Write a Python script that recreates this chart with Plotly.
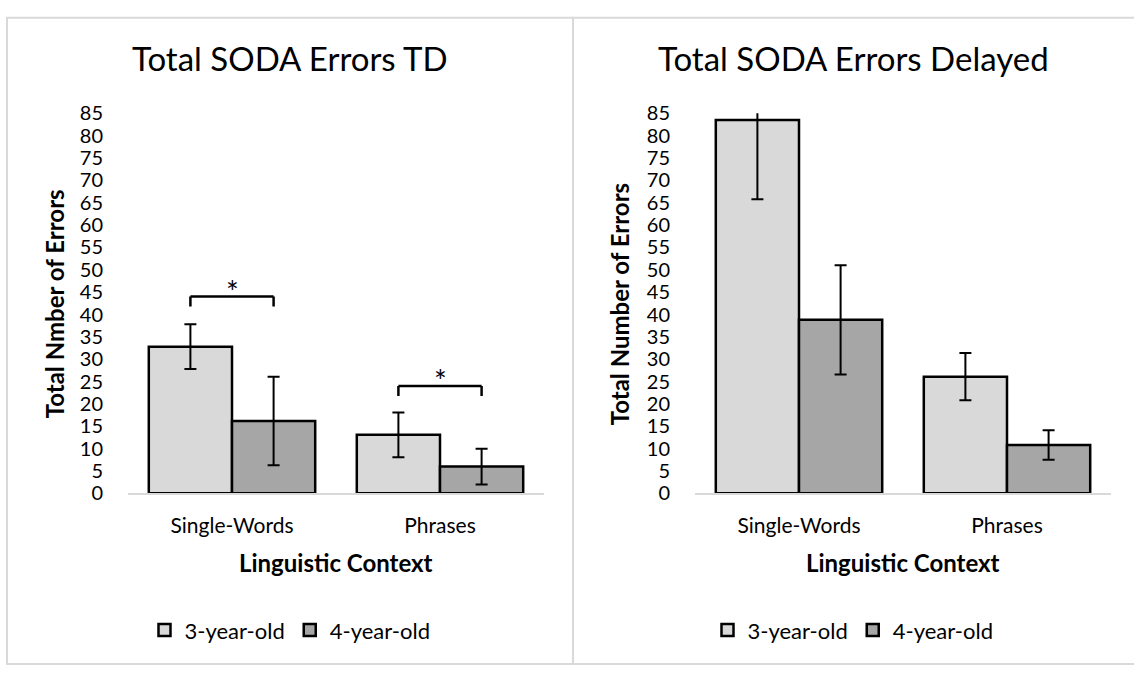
import plotly.graph_objects as go

# ---- data -------------------------------------------------------------
categories = ["Single-Words", "Phrases"]
groups = ["3-year-old", "4-year-old"]

td_3yo = [32.8, 13.1]
td_3yo_err = [5.0, 5.0]
td_4yo = [16.2, 6.0]
td_4yo_err = [9.9, 4.0]

delayed_3yo = [83.5, 26.1]
delayed_3yo_err = [17.7, 5.3]
delayed_4yo = [38.8, 10.8]
delayed_4yo_err = [12.2, 3.3]

# significance brackets on the TD chart: (category index, bracket height)
td_brackets = [(0, 44.0), (1, 24.0)]

W, H = 1134, 677
FONT = "Lato, 'Open Sans', sans-serif"
LIGHT = "#d9d9d9"
DARK = "#a6a6a6"


def fx(px):
    return px / W


def fy(py):
    return 1 - py / H


fig = go.Figure()


def add_pair(v3, e3, v4, e4, xa, ya, leg):
    for vals, errs, color, name in ((v3, e3, LIGHT, groups[0]), (v4, e4, DARK, groups[1])):
        fig.add_trace(go.Bar(
            x=categories, y=vals, name=name,
            marker=dict(color=color, line=dict(color="black", width=2.5)),
            error_y=dict(type="data", array=errs, color="black", thickness=2, width=6),
            xaxis=xa, yaxis=ya, legend=leg,
        ))


add_pair(td_3yo, td_3yo_err, td_4yo, td_4yo_err, "x", "y", "legend")
add_pair(delayed_3yo, delayed_3yo_err, delayed_4yo, delayed_4yo_err, "x2", "y2", "legend2")

xcommon = dict(type="category", range=[-0.5, 1.5], showline=True, linecolor=LIGHT,
               linewidth=2, ticks="outside", ticklen=12, tickcolor="rgba(0,0,0,0)",
               tickfont=dict(size=21, color="black", family=FONT), showgrid=False,
               zeroline=False, fixedrange=True)
ycommon = dict(range=[0, 85], tick0=0, dtick=5, showgrid=False, zeroline=False,
               showline=False, ticks="outside", ticklen=20, tickcolor="rgba(0,0,0,0)",
               tickfont=dict(size=20, color="black", family=FONT), fixedrange=True)

plot_top, plot_bottom = 104, 498
left_x = (128, 544)
right_x = (695, 1111)

fig.update_layout(
    xaxis=dict(domain=[fx(left_x[0]), fx(left_x[1])], anchor="y", **xcommon),
    yaxis=dict(domain=[fy(plot_bottom), fy(plot_top)], anchor="x", **ycommon),
    xaxis2=dict(domain=[fx(right_x[0]), fx(right_x[1])], anchor="y2", **xcommon),
    yaxis2=dict(domain=[fy(plot_bottom), fy(plot_top)], anchor="x2", **ycommon),
)

legend_common = dict(orientation="h", yanchor="middle", y=fy(640), xanchor="center",
                     font=dict(size=22, color="black", family=FONT),
                     bgcolor="rgba(0,0,0,0)", traceorder="normal", itemclick=False)
left_center = 290
right_center = 853

fig.update_layout(
    width=W, height=H, margin=dict(l=0, r=0, t=0, b=0),
    paper_bgcolor="white", plot_bgcolor="white",
    barmode="group", bargap=0.2, bargroupgap=0,
    font=dict(family=FONT, color="black"),
    legend=dict(x=fx(left_center), **legend_common),
    legend2=dict(x=fx(right_center), **legend_common),
    showlegend=True,
)

annotations = []
shapes = []

# chart titles
for cx, text in ((left_center, "Total SODA Errors TD"), (right_center, "Total SODA Errors Delayed")):
    annotations.append(dict(text=text, x=fx(cx), y=fy(47), xref="paper", yref="paper",
                            xanchor="center", yanchor="middle", showarrow=False,
                            font=dict(size=33, color="black", family=FONT)))

# axis titles
for cx, ytitle, (x0, x1) in ((54, "Total Nmber of Errors", left_x),
                             (619, "Total Number of Errors", right_x)):
    annotations.append(dict(text="<b>%s</b>" % ytitle, x=fx(cx), y=fy(302), xref="paper",
                            yref="paper", xanchor="center", yanchor="middle", textangle=-90,
                            showarrow=False, font=dict(size=24, color="black", family=FONT)))
    annotations.append(dict(text="<b>Linguistic Context</b>", x=fx((x0 + x1) / 2), y=fy(570),
                            xref="paper", yref="paper", xanchor="center", yanchor="middle",
                            showarrow=False, font=dict(size=24, color="black", family=FONT)))

# significance brackets with stars
for idx, level in td_brackets:
    xa, xb = idx - 0.2, idx + 0.2
    drop = 2.2
    for (x0, y0, x1, y1) in ((xa, level - drop, xa, level), (xa, level, xb, level),
                             (xb, level, xb, level - drop)):
        shapes.append(dict(type="line", xref="x", yref="y", x0=x0, y0=y0, x1=x1, y1=y1,
                           line=dict(color="black", width=2.5)))
    annotations.append(dict(text="*", x=idx, y=level + 1.3, xref="x", yref="y",
                            xanchor="center", yanchor="middle", showarrow=False,
                            font=dict(size=30, color="black", family=FONT)))

# chart frames
for x0, x1 in ((7, 573), (573, W + 5)):
    shapes.append(dict(type="rect", xref="paper", yref="paper", x0=fx(x0), x1=fx(x1),
                       y0=fy(675), y1=fy(5), line=dict(color="#d9d9d9", width=2),
                       fillcolor="rgba(0,0,0,0)", layer="below"))

fig.update_layout(annotations=annotations, shapes=shapes)

fig.write_html("out.html")
